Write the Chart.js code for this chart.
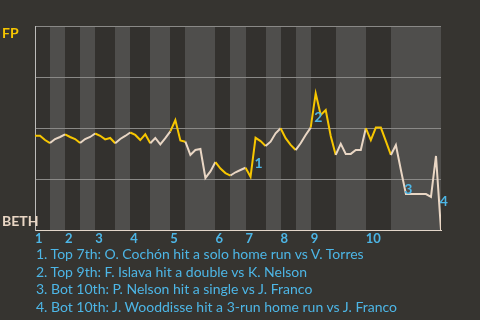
<!DOCTYPE html>
<html><head><meta charset="utf-8">
<script src="https://cdn.jsdelivr.net/npm/chart.js@4"></script>
<style>
html,body{margin:0;padding:0;background:#363430;width:480px;height:320px;overflow:hidden}
#wrap{position:relative;width:480px;height:320px}
canvas{position:absolute;left:0;top:0}
#notes{position:absolute;left:36px;top:245px;font-family:Lato,sans-serif;font-size:14px;color:#4db6e6;line-height:17.7px;white-space:nowrap}
</style></head><body>
<div id="wrap"><canvas id="c" width="480" height="320"></canvas><div id="notes"></div></div>
<script>
// Win probability for FP (percent), one value per plate appearance
const winProb = [
  46.2, 46.2, 44.1, 42.6, 44.6, 45.6, 46.9, 45.6, 44.6, 42.6,
  44.6, 45.6, 47.3, 46.2, 44.4, 45.1, 42.5, 44.6, 46.1, 47.8,
  46.6, 44.1, 46.9, 42.5, 45.1, 42.0, 45.0, 48.3, 53.9, 43.9,
  43.3, 36.8, 39.2, 39.7, 25.5, 28.7, 33.3, 30.1, 27.9, 26.7,
  28.3, 29.4, 30.5, 26.1, 45.2, 43.6, 41.2, 43.3, 47.4, 49.9,
  45.0, 41.7, 39.2, 42.5, 46.6, 50.2, 67.0, 56.4, 58.8, 46.1,
  36.8, 42.2, 37.3, 37.3, 39.2, 39.2, 49.9, 44.1, 50.2, 50.2,
  43.6, 36.8, 41.7, 29.4, 17.6, 17.6, 17.6, 17.6, 17.6, 16.2,
  36.3, 0
];
// event index at which each half-inning starts (top 1st, bot 1st, ...)
const halfInningStarts = [0,3,6,9,12,16,19,23,27,30,36,39,42,46,49,52,55,60,66,71];
const inningLabels = ['1','2','3','4','5','6','7','8','9','10'];
const teamTop = 'FP';
const teamBottom = 'BETH';
const keyEvents = [44, 56, 74, 81];
const notes = [
  '1. Top 7th: O. Cochón hit a solo home run vs V. Torres',
  '2. Top 9th: F. Islava hit a double vs K. Nelson',
  '3. Bot 10th: P. Nelson hit a single vs J. Franco',
  '4. Bot 10th: J. Wooddisse hit a 3-run home run vs J. Franco'
];

const YELLOW = '#f7c600', BEIGE = '#e9d6c4', BLUE = '#4db6e6';
const lastEvent = winProb.length - 1;

document.getElementById('notes').innerHTML = notes.map(n => '<div>' + n + '</div>').join('');

function halfIndex(i) {
  let k = 0;
  for (let j = 0; j < halfInningStarts.length; j++) if (halfInningStarts[j] <= i) k = j;
  return k;
}

const bandsPlugin = {
  id: 'bands',
  beforeDraw(chart) {
    const {ctx, chartArea: a, scales: {x}} = chart;
    ctx.save();
    for (let k = 0; k < halfInningStarts.length; k++) {
      const s = halfInningStarts[k];
      const e = k + 1 < halfInningStarts.length ? halfInningStarts[k + 1] : lastEvent;
      const x0 = Math.round(x.getPixelForValue(s));
      const x1 = Math.round(x.getPixelForValue(e));
      ctx.fillStyle = k % 2 === 0 ? '#33312e' : '#4f4e4c';
      ctx.fillRect(x0, a.top, x1 - x0, a.bottom - a.top);
    }
    ctx.restore();
  },
  afterDatasetsDraw(chart) {
    const {ctx, chartArea: a} = chart;
    const meta = chart.getDatasetMeta(0);
    const offs = [[3, 26], [2.5, 24], [2.5, -5], [2.7, -28.5]];
    ctx.save();
    ctx.font = 'bold 14px Lato, sans-serif';
    ctx.fillStyle = BLUE;
    ctx.textAlign = 'center';
    ctx.textBaseline = 'middle';
    keyEvents.forEach((idx, i) => {
      const p = meta.data[idx];
      ctx.fillText(String(i + 1), p.x + offs[i][0], p.y + offs[i][1]);
    });
    ctx.textAlign = 'left';
    ctx.fillStyle = YELLOW;
    ctx.fillText(teamTop, 2, a.top + 7);
    ctx.fillStyle = BEIGE;
    ctx.fillText(teamBottom, 2, a.bottom - 9);
    ctx.restore();
  }
};

new Chart(document.getElementById('c'), {
  type: 'line',
  data: {
    datasets: [{
      data: winProb.map((v, i) => ({x: i, y: v})),
      borderWidth: 2,
      pointRadius: 0,
      tension: 0,
      fill: false,
      segment: { borderColor: c => halfIndex(c.p0DataIndex) % 2 === 0 ? YELLOW : BEIGE }
    }]
  },
  options: {
    responsive: false,
    animation: false,
    devicePixelRatio: 1,
    layout: { padding: { left: 35, right: 39, top: 26, bottom: 74 } },
    plugins: { legend: { display: false }, tooltip: { enabled: false } },
    scales: {
      x: {
        type: 'linear', min: 0, max: lastEvent,
        grid: { display: false, drawTicks: false },
        border: { display: true, color: '#e3d6c9', width: 1 },
        afterBuildTicks: s => {
          s.ticks = halfInningStarts.filter((v, k) => k % 2 === 0).map(v => ({value: v}));
        },
        afterFit: s => { s.height = 16; },
        ticks: {
          align: 'start', autoSkip: false, maxRotation: 0, padding: 1,
          color: BLUE, font: { family: 'Lato', size: 13, weight: 'bold' },
          callback: (v) => {
            const k = halfInningStarts.filter((s, j) => j % 2 === 0).indexOf(v);
            return k >= 0 ? inningLabels[k] : '';
          }
        }
      },
      y: {
        min: 0, max: 100,
        grid: { color: '#8a8987', drawTicks: false, lineWidth: 1 },
        border: { display: true, color: '#bdbcba', width: 1 },
        ticks: { display: false, stepSize: 25 },
        afterFit: s => { s.width = 0; }
      }
    }
  },
  plugins: [bandsPlugin]
});
</script>
</body></html>
